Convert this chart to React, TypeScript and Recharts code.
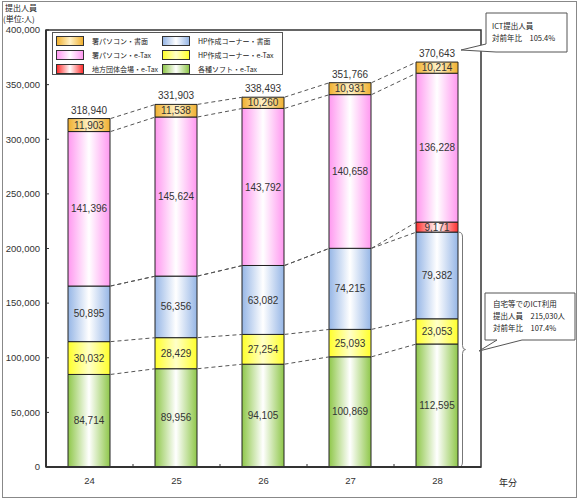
import React from 'react';
import {
  ComposedChart,
  Bar,
  XAxis,
  YAxis,
  ReferenceLine,
  ReferenceArea,
  LabelList,
  Legend,
} from 'recharts';

// ---------- data ----------
const years = ['24', '25', '26', '27', '28'];
const software = [84714, 89956, 94105, 100869, 112595]; // 各種ソフト・e-Tax
const hpEtax = [30032, 28429, 27254, 25093, 23053]; // HP作成コーナー・e-Tax
const hpPaper = [50895, 56356, 63082, 74215, 79382]; // HP作成コーナー・書面
const localVenue = [0, 0, 0, 0, 9171]; // 地方団体会場・e-Tax
const officeEtax = [141396, 145624, 143792, 140658, 136228]; // 署パソコン・e-Tax
const officePaper = [11903, 11538, 10260, 10931, 10214]; // 署パソコン・書面
const totals = [318940, 331903, 338493, 351766, 370643];
const yTicks = [0, 50000, 100000, 150000, 200000, 250000, 300000, 350000, 400000];

const series = [
  { key: 'software', name: '各種ソフト・e-Tax', values: software, color: '#8fc74a', mid: '#ffffff' },
  { key: 'hpEtax', name: 'HP作成コーナー・e-Tax', values: hpEtax, color: '#ffff2a', mid: '#ffffc8' },
  { key: 'hpPaper', name: 'HP作成コーナー・書面', values: hpPaper, color: '#96b6e6', mid: '#ffffff' },
  { key: 'localVenue', name: '地方団体会場・e-Tax', values: localVenue, color: '#ff2e2e', mid: '#ffffff' },
  { key: 'officeEtax', name: '署パソコン・e-Tax', values: officeEtax, color: '#ff98f0', mid: '#ffffff' },
  { key: 'officePaper', name: '署パソコン・書面', values: officePaper, color: '#f0b030', mid: '#fff2c8' },
];

const legendCol1 = ['officePaper', 'officeEtax', 'localVenue'];
const legendCol2 = ['hpPaper', 'hpEtax', 'software'];

const data = years.map((y, i) => {
  const row: any = { idx: i, year: y, total: totals[i] };
  series.forEach((s) => (row[s.key] = s.values[i]));
  return row;
});

// cumulative tops of each stack layer
const cumulative = series.map((_, k) =>
  years.map((__, i) => series.slice(0, k + 1).reduce((a, s) => a + s.values[i], 0))
);

// ---------- layout ----------
const W = 580;
const H = 500;
const PLOT_LEFT = 46;
const PLOT_RIGHT = 481;
const PLOT_TOP = 30;
const PLOT_BOTTOM = 467;
const BAR_SIZE = 42;
const UNIT_PX = (PLOT_RIGHT - PLOT_LEFT) / years.length;
const HALF_BAR = BAR_SIZE / 2 / UNIT_PX;
const FONT = '"Noto Sans CJK JP", "Noto Sans", sans-serif';
const NUM_FONT = '"Liberation Sans", Arial, sans-serif';

const fmt = (v: any) => (v ? Number(v).toLocaleString('en-US') : '');

const xTicks: number[] = [];
for (let i = 0; i < years.length; i++) {
  xTicks.push(i);
  if (i < years.length - 1) xTicks.push(i + 0.5);
}

const XTick = (props: any) => {
  const { x, y, payload } = props;
  const v = payload.value;
  if (Number.isInteger(v)) {
    return (
      <text x={x} y={y + 17} textAnchor="middle" fontSize={9.5} fill="#333" fontFamily={NUM_FONT}>
        {years[v]}
      </text>
    );
  }
  return <line x1={x} x2={x} y1={y} y2={y - 3} stroke="#333" strokeWidth={1} />;
};

const Brace = (props: any) => {
  const { x1, y1, y2 } = props;
  const x = x1;
  const top = Math.min(y1, y2);
  const bot = Math.max(y1, y2);
  const mid = (top + bot) / 2;
  const d = `M ${x - 4} ${top} Q ${x} ${top} ${x} ${top + 5} L ${x} ${mid - 4} Q ${x} ${mid} ${x + 3} ${mid} Q ${x} ${mid} ${x} ${mid + 4} L ${x} ${bot - 5} Q ${x} ${bot} ${x - 4} ${bot}`;
  return <path d={d} fill="none" stroke="#777" strokeWidth={1} />;
};

const gradId = (key: string) => `grad-${key}`;

const LegendContent = () => {
  const byKey: any = {};
  series.forEach((s) => (byKey[s.key] = s));
  const item = (key: string, left: number, top: number) => {
    const s = byKey[key];
    return (
      <div key={key} style={{ position: 'absolute', left, top, display: 'flex', alignItems: 'center' }}>
        <div
          style={{
            width: 26,
            height: 8,
            border: '1px solid #333',
            background: `linear-gradient(to right, ${s.color} 0%, ${s.mid} 50%, ${s.color} 100%)`,
          }}
        />
        <span
          style={{
            marginLeft: 8,
            fontSize: 7,
            fontFamily: FONT,
            color: '#222',
            whiteSpace: 'nowrap',
            lineHeight: '10px',
          }}
        >
          {s.name}
        </span>
      </div>
    );
  };
  return (
    <div
      style={{
        position: 'relative',
        width: 231,
        height: 43,
        border: '1px solid #555',
        background: '#fff',
        boxSizing: 'border-box',
      }}
    >
      {legendCol1.map((k, r) => item(k, 3, 3 + r * 14))}
      {legendCol2.map((k, r) => item(k, 109, 3 + r * 14))}
    </div>
  );
};

export default function App() {
  const boundaryLines: any[] = [];
  cumulative.forEach((cum, k) => {
    for (let i = 0; i < years.length - 1; i++) {
      boundaryLines.push(
        <ReferenceLine
          key={`c-${k}-${i}`}
          segment={[
            { x: i + HALF_BAR, y: cum[i] },
            { x: i + 1 - HALF_BAR, y: cum[i + 1] },
          ]}
          stroke="#555"
          strokeWidth={1}
          strokeDasharray="4 3"
          ifOverflow="visible"
        />
      );
    }
  });

  const last = years.length - 1;
  const braceX = last + (BAR_SIZE / 2 + 4) / UNIT_PX;

  return (
    <div style={{ position: 'absolute', left: 0, top: 0, width: W, height: H, background: '#fff' }}>
      <svg width={0} height={0} style={{ position: 'absolute' }}>
        <defs>
          {series.map((s) => (
            <linearGradient key={s.key} id={gradId(s.key)} x1="0" y1="0" x2="1" y2="0">
              <stop offset="0%" stopColor={s.color} />
              <stop offset="50%" stopColor={s.mid} />
              <stop offset="100%" stopColor={s.color} />
            </linearGradient>
          ))}
        </defs>
      </svg>
      <ComposedChart
        width={W}
        height={H}
        data={data}
        margin={{ top: PLOT_TOP, right: W - PLOT_RIGHT, bottom: 0, left: 0 }}
        style={{ fontFamily: FONT }}
      >
        <ReferenceArea
          x1={-0.5}
          x2={years.length - 0.5}
          y1={0}
          y2={400000}
          fill="none"
          fillOpacity={0}
          stroke="#333"
          strokeWidth={1.5}
          ifOverflow="visible"
        />
        <XAxis
          type="number"
          dataKey="idx"
          domain={[-0.5, years.length - 0.5]}
          ticks={xTicks}
          interval={0}
          allowDecimals
          tickLine={false}
          tickSize={0}
          tickMargin={0}
          tick={<XTick />}
          axisLine={{ stroke: '#333', strokeWidth: 2 }}
          height={H - PLOT_BOTTOM}
        />
        <YAxis
          type="number"
          domain={[0, 400000]}
          ticks={yTicks}
          interval={0}
          width={PLOT_LEFT}
          tickFormatter={(v: number) => (v === 0 ? '0' : v.toLocaleString('en-US'))}
          tickSize={-3}
          tickMargin={9}
          tickLine={{ stroke: '#333' }}
          tick={{ fontSize: 9.5, fill: '#333', fontFamily: NUM_FONT }}
          axisLine={{ stroke: '#333', strokeWidth: 2 }}
        />
        <Legend
          content={<LegendContent />}
          layout="horizontal"
          verticalAlign="middle"
          align="center"
          wrapperStyle={{ left: 52, top: 32, width: 231, height: 43 }}
        />
        {series.map((s, k) => (
          <Bar
            key={s.key}
            dataKey={s.key}
            name={s.name}
            stackId="a"
            barSize={BAR_SIZE}
            fill={`url(#${gradId(s.key)})`}
            stroke="#222"
            strokeWidth={1}
            isAnimationActive={false}
          >
            <LabelList
              dataKey={s.key}
              position="center"
              formatter={fmt}
              fill="#333"
              fontSize={10}
              fontFamily={NUM_FONT}
            />
            {k === series.length - 1 ? (
              <LabelList
                dataKey="total"
                position="top"
                offset={5}
                formatter={fmt}
                fill="#333"
                fontSize={10}
                fontFamily={NUM_FONT}
              />
            ) : null}
          </Bar>
        ))}
        {boundaryLines}
        <ReferenceLine
          segment={[
            { x: braceX, y: 0 },
            { x: braceX, y: cumulative[2][last] },
          ]}
          shape={<Brace />}
          ifOverflow="visible"
        />
      </ComposedChart>
      <svg
        width={W}
        height={H}
        style={{ position: 'absolute', left: 0, top: 0, pointerEvents: 'none' }}
        fontFamily={FONT}
      >
        <rect x={2.5} y={1.5} width={574} height={496} fill="none" stroke="#888" strokeWidth={1} />
        <text x={5} y={10.5} fontSize={8} fill="#222">提出人員</text>
        <text x={3} y={22} fontSize={8} fill="#222">(単位:人)</text>
        <text x={508} y={486} fontSize={9} fill="#222" textAnchor="middle">年分</text>
        <path
          d="M 486 13 L 567 13 L 567 52 L 496 52 L 461 50 L 486 44 Z"
          fill="#fff"
          stroke="#555"
          strokeWidth={1}
        />
        <text x={492} y={29} fontSize={7.5} fill="#222">ICT提出人員</text>
        <text x={492} y={41} fontSize={7.5} fill="#222">対前年比　105.4%</text>
        <path
          d="M 485 293 L 575 293 L 575 340 L 522 340 L 479 351 L 497 340 L 485 340 Z"
          fill="#fff"
          stroke="#555"
          strokeWidth={1}
        />
        <text x={493} y={307} fontSize={7.5} fill="#222">自宅等でのICT利用</text>
        <text x={493} y={319} fontSize={7.5} fill="#222">提出人員　215,030人</text>
        <text x={493} y={331} fontSize={7.5} fill="#222">対前年比　107.4%</text>
      </svg>
    </div>
  );
}
